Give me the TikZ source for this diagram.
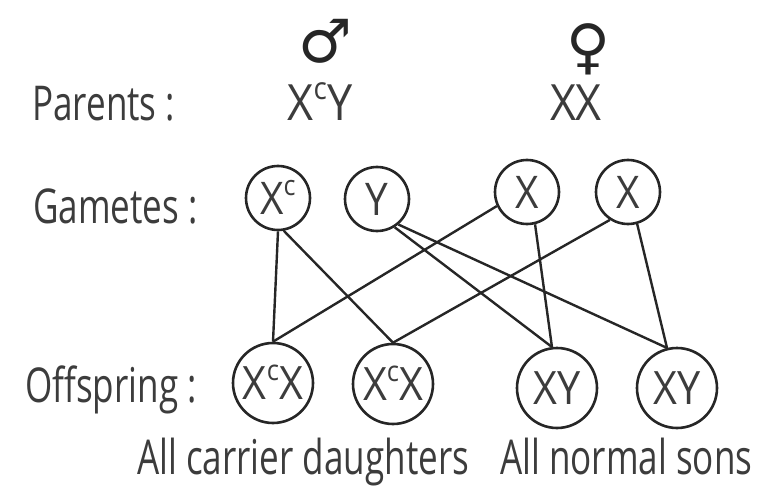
\documentclass[tikz,border=0pt]{standalone}
\usepackage{fontspec}
\setmainfont{Open Sans}[FakeStretch=0.73]
\newfontfamily\ltr{Open Sans}[FakeStretch=0.9]
\newfontfamily\symfont{DejaVu Sans}
\definecolor{txt}{HTML}{3C3C3C}
\definecolor{ln}{HTML}{262626}
\newcommand{\supc}{\smash{\raisebox{0.42em}{\scalebox{0.62}{c}}}}
\begin{document}
\begin{tikzpicture}[x=1pt,y=-1pt,
  lbl/.style={anchor=base west,inner sep=0,text=txt,font=\fontsize{48}{50}\selectfont},
  par/.style={anchor=base,inner sep=0,text=txt,font=\ltr\fontsize{50}{52}\selectfont},
  sym/.style={anchor=base,inner sep=0,text depth=0pt,text=ln,font=\symfont\fontsize{60}{62}\selectfont},
  gam/.style={circle,draw=ln,line width=2.6pt,minimum size=64pt,inner sep=0,text=txt,font=\ltr\fontsize{45}{46}\selectfont},
  off/.style={circle,draw=ln,line width=2.6pt,minimum size=80pt,inner sep=0,text=txt,font=\ltr\fontsize{46}{48}\selectfont},
  link/.style={draw=ln,line width=2.4pt}]
\useasboundingbox (0,0) rectangle (758,487);
% labels
\node[lbl] (lp) at (32,120) {Parents :};
\node[lbl] (lg) at (33,223) {Gametes :};
\node[lbl] (lo) at (25,402) {Offspring :};
\node[lbl] (ld) at (137,474) {All carrier daughters};
\node[lbl] (ls) at (500,474) {All normal sons};
% parents
\node[sym] (male) at (325,63) {♂};
\node[sym] (female) at (588,67) {♀};
\node[par] (pm) at (320,120) {X\supc Y};
\node[par] (pf) at (576,120) {XX};
% gametes
\node[gam] (xc) at (278,198) {X\supc};
\node[gam] (y) at (377,199) {Y};
\node[gam] (x1) at (527,192) {X};
\node[gam] (x2) at (628,192) {X};
% offspring
\node[off] (o1) at (273,383) {X\supc X};
\node[off] (o2) at (393,384) {X\supc X};
\node[off] (o3) at (557,388) {XY};
\node[off] (o4) at (677,388) {XY};
% links
\draw[link] (xc.south) -- (o1.north);
\draw[link] (xc.-80) -- (o2.north);
\draw[link] (x1.205) -- (o1.north);
\draw[link] (x2.237) -- (o2.north);
\draw[link] (y.-58) -- (o3.97);
\draw[link] (y.-50) -- (o4.104);
\draw[link] (x1.-76) -- (o3.97);
\draw[link] (x2.-74) -- (o4.104);
\end{tikzpicture}
\end{document}
